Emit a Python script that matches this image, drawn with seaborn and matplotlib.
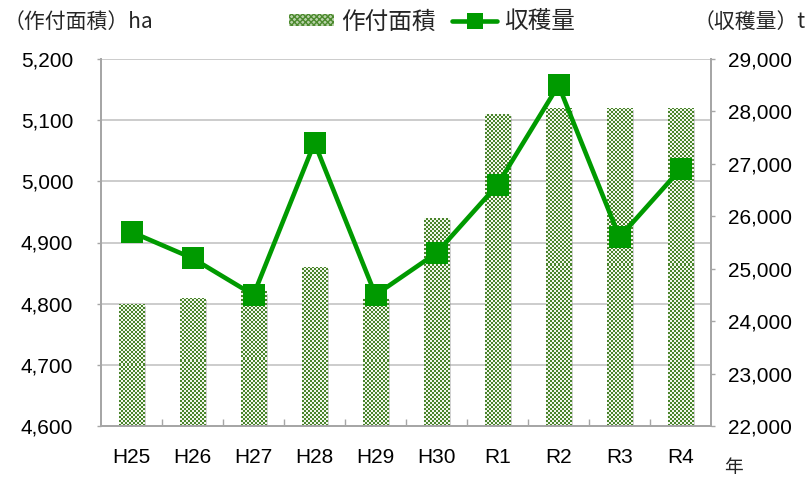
import numpy as np
import pandas as pd
import matplotlib
matplotlib.use("Agg")
import matplotlib.pyplot as plt
import seaborn as sns
from matplotlib.patches import Patch
from matplotlib.lines import Line2D
import matplotlib.patheffects as pe
from matplotlib.ticker import FixedLocator, FuncFormatter

# ---- data ----
years = ["H25", "H26", "H27", "H28", "H29", "H30", "R1", "R2", "R3", "R4"]
area_ha = [4800, 4810, 4820, 4860, 4810, 4940, 5110, 5120, 5120, 5120]
harvest_t = [25700, 25200, 24500, 27400, 24500, 25300, 26600, 28500, 25600, 26900]
area_ticks = [4600, 4700, 4800, 4900, 5000, 5100, 5200]
harvest_ticks = [22000, 23000, 24000, 25000, 26000, 27000, 28000, 29000]
area_label = "（作付面積）ha"
harvest_label = "（収穫量）t"
year_label = "年"
legend_area = "作付面積"
legend_harvest = "収穫量"

GREEN_LINE = "#009a00"
CHECK_DARK = np.array([0.29, 0.52, 0.17])
CHECK_LIGHT = np.array([0.95, 0.97, 0.93])
SPINE = "#a6a6a6"
CJK = ["Noto Sans CJK JP", "DejaVu Sans"]

sns.set_theme(style="white")
plt.rcParams["font.family"] = ["Liberation Sans", "Noto Sans CJK JP", "DejaVu Sans"]

df = pd.DataFrame({"year": years, "area": area_ha, "harvest": harvest_t})

fig = plt.figure(figsize=(8.07, 4.78), dpi=100)
ax = fig.add_axes([101 / 807, 1 - 426 / 478, (711 - 101) / 807, (426 - 59) / 478])

sns.barplot(data=df, x="year", y="area", ax=ax, color="white", width=0.42,
            saturation=1, edgecolor="none", linewidth=0, zorder=2)
ylo, yhi = area_ticks[0], area_ticks[-1]
ax.set_ylim(ylo, yhi)
ax.set_xlim(-0.5, len(years) - 0.5)

# checkered fill for bars + soft shadow
bars = list(ax.patches)
for p in bars:
    p.set_path_effects([pe.SimplePatchShadow(offset=(1.5, -1.5), shadow_rgbFace="#808080", alpha=0.35),
                        pe.Normal()])
    x0, y0 = p.get_x(), p.get_y()
    w, h = p.get_width(), p.get_height()
    yb = max(y0, ylo)
    yt = y0 + h
    (px0, py0), (px1, py1) = ax.transData.transform([(x0, yb), (x0 + w, yt)])
    nc = max(1, int(round(abs(px1 - px0) / 2.0)))
    nr = max(1, int(round(abs(py1 - py0) / 2.0)))
    ii, jj = np.meshgrid(np.arange(nr), np.arange(nc), indexing="ij")
    mask = ((ii + jj) % 2 == 0)[..., None]
    img = np.where(mask, CHECK_DARK, CHECK_LIGHT)
    im = ax.imshow(img, extent=[x0, x0 + w, yb, yt], interpolation="nearest",
                   aspect="auto", zorder=2.5, origin="lower")
    im.set_clip_path(p)

ax.set_ylim(ylo, yhi)
ax.set_xlim(-0.5, len(years) - 0.5)

# line on secondary axis
ax2 = ax.twinx()
sns.lineplot(data=df, x="year", y="harvest", ax=ax2, color=GREEN_LINE, marker="s",
             markersize=15.5, markeredgewidth=0, linewidth=3.3, sort=False, legend=False, zorder=5)
ax2.set_ylim(harvest_ticks[0], harvest_ticks[-1])
ax2.set_xlim(-0.5, len(years) - 0.5)

fmt = FuncFormatter(lambda v, _: f"{v:,.0f}")
ax.yaxis.set_major_locator(FixedLocator(area_ticks))
ax.yaxis.set_major_formatter(fmt)
ax2.yaxis.set_major_locator(FixedLocator(harvest_ticks))
ax2.yaxis.set_major_formatter(fmt)

ax.set_xlabel("")
ax.set_ylabel("")
ax2.set_xlabel("")
ax2.set_ylabel("")

ax.yaxis.grid(True, color="#c4c4c4", linewidth=1.2, zorder=0)
ax.xaxis.grid(False)
ax2.grid(False)
ax.set_axisbelow(True)

ax.tick_params(axis="y", left=True, length=3, width=1, color=SPINE, pad=17,
               labelsize=15, labelcolor="black", direction="out")
ax2.tick_params(axis="y", right=True, length=3, width=1, color=SPINE, pad=9.5,
                labelsize=15, labelcolor="black", direction="out")
ax.tick_params(axis="x", which="major", bottom=False, length=0, pad=15.5,
               labelsize=15, labelcolor="black")
ax.set_xticks([i + 0.5 for i in range(len(years) - 1)], minor=True)
ax.tick_params(axis="x", which="minor", bottom=True, direction="in", length=5,
               width=1, color=SPINE)

for a in (ax, ax2):
    a.spines["top"].set_visible(False)
    for s in ("left", "right", "bottom"):
        a.spines[s].set_color(SPINE)
        a.spines[s].set_linewidth(1.3)

fig.text(4 / 807, 1 - 22 / 478, area_label, ha="left", va="center",
         fontsize=15, family=CJK)
fig.text(806 / 807, 1 - 22 / 478, harvest_label, ha="right", va="center",
         fontsize=15, family=CJK)
fig.text(733 / 807, 1 - 467 / 478, year_label, ha="center", va="center",
         fontsize=13.5, family=CJK)

handles = [
    Patch(facecolor="#b9d2aa", edgecolor="#4c8a2e", hatch="xxxxxx", linewidth=0, label=legend_area),
    Line2D([], [], color=GREEN_LINE, linewidth=3.3, marker="s", markersize=12,
           markeredgewidth=0, label=legend_harvest),
]
fig.legend(handles=handles, loc="center", bbox_to_anchor=(432 / 807, 1 - 22 / 478), ncol=2,
           frameon=False, prop={"family": CJK, "size": 17}, handlelength=1.9,
           handleheight=0.4, handletextpad=0.3, columnspacing=0.7)

fig.savefig("out.png", dpi=100)
